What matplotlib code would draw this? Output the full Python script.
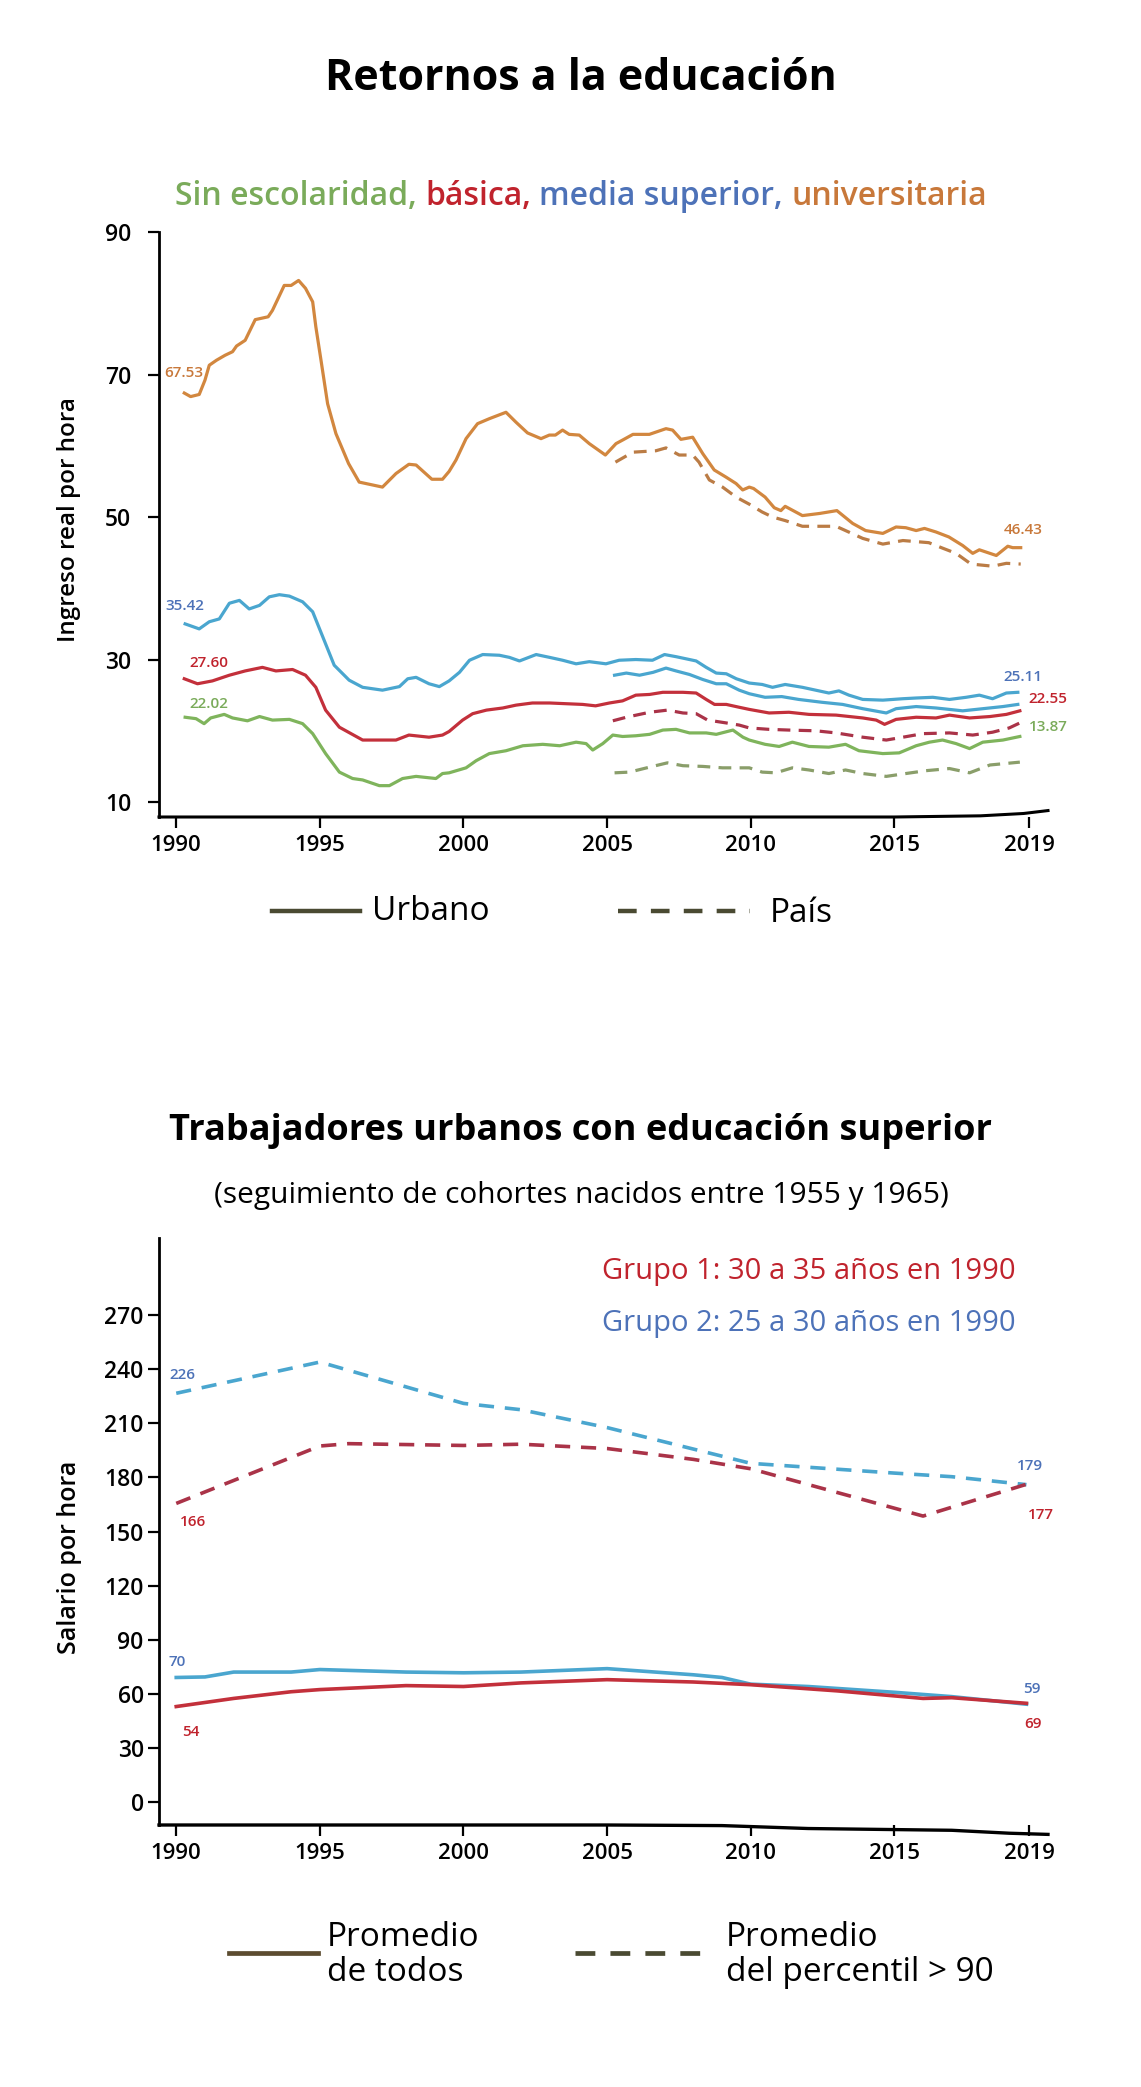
import matplotlib
matplotlib.use("Agg")
import matplotlib.pyplot as plt
from matplotlib.lines import Line2D

plt.rcParams['font.family'] = ['Open Sans', 'DejaVu Sans']

# ---------------- DATA: top chart (Ingreso real por hora) ----------------
uni_urb_x = [1990.28, 1990.5, 1990.8, 1991.0, 1991.15, 1991.4, 1991.7, 1991.96, 1992.1, 1992.4,
             1992.75, 1993.2, 1993.35, 1993.76, 1994.0, 1994.26, 1994.5, 1994.75, 1994.86, 1995.04,
             1995.27, 1995.56, 1996.0, 1996.37, 1997.18, 1997.65, 1998.1, 1998.35, 1998.9, 1999.27,
             1999.5, 1999.74, 2000.09, 2000.49, 2000.9, 2001.48, 2001.83, 2002.23, 2002.7, 2002.99,
             2003.2, 2003.45, 2003.68, 2004.03, 2004.38, 2004.94, 2005.31, 2005.54, 2005.9, 2006.47,
             2007.05, 2007.28, 2007.57, 2007.98, 2008.33, 2008.73, 2009.14, 2009.49, 2009.72, 2009.95,
             2010.1, 2010.5, 2010.82, 2011.05, 2011.2, 2011.8, 2012.4, 2013.0, 2013.55, 2014.0,
             2014.6, 2015.06, 2015.4, 2015.76, 2016.05, 2016.45, 2016.9, 2017.38, 2017.73, 2017.96,
             2018.55, 2018.95, 2019.12, 2019.4]
uni_urb = [67.4, 66.9, 67.2, 69.2, 71.3, 72.0, 72.7, 73.2, 74.0, 74.8,
           77.7, 78.1, 79.0, 82.5, 82.5, 83.2, 82.1, 80.2, 76.7, 72.0,
           65.9, 61.7, 57.5, 54.9, 54.2, 56.1, 57.4, 57.3, 55.3, 55.3,
           56.4, 58.0, 61.0, 63.1, 63.8, 64.7, 63.3, 61.8, 61.0, 61.5,
           61.5, 62.2, 61.6, 61.5, 60.3, 58.7, 60.3, 60.8, 61.6, 61.6,
           62.4, 62.2, 60.9, 61.2, 58.9, 56.6, 55.6, 54.7, 53.8, 54.2,
           54.0, 52.8, 51.3, 50.9, 51.5, 50.2, 50.5, 50.9, 49.1, 48.1,
           47.7, 48.6, 48.5, 48.1, 48.4, 47.9, 47.2, 46.0, 44.9, 45.4,
           44.6, 45.9, 45.7, 45.7]

uni_pais_x = [2005.29, 2005.9, 2006.7, 2007.05, 2007.51, 2007.98, 2008.2, 2008.56, 2009.02, 2009.49,
              2009.95, 2010.4, 2010.76, 2011.2, 2011.8, 2012.97, 2013.3, 2013.9, 2014.6, 2015.3,
              2016.2, 2016.7, 2017.15, 2017.67, 2018.42, 2018.9, 2019.4]
uni_pais = [57.7, 59.1, 59.3, 59.7, 58.7, 58.7, 57.7, 55.2, 54.2, 52.8,
            51.8, 50.7, 50.0, 49.5, 48.7, 48.7, 48.1, 47.0, 46.2, 46.7,
            46.4, 45.6, 44.9, 43.4, 43.1, 43.5, 43.4]

med_urb_x = [1990.31, 1990.8, 1991.15, 1991.5, 1991.85, 1992.2, 1992.54, 1992.9, 1993.24, 1993.59,
             1993.94, 1994.4, 1994.75, 1995.1, 1995.5, 1996.02, 1996.49, 1997.18, 1997.77, 1998.06,
             1998.35, 1998.8, 1999.16, 1999.5, 1999.86, 2000.21, 2000.67, 2001.25, 2001.6, 2001.95,
             2002.53, 2003.0, 2003.45, 2003.92, 2004.38, 2004.96, 2005.42, 2006.0, 2006.58, 2007.0,
             2007.4, 2008.1, 2008.45, 2008.8, 2009.15, 2009.5, 2009.95, 2010.4, 2010.76, 2011.2,
             2011.8, 2012.26, 2012.72, 2013.07, 2013.42, 2013.9, 2014.6, 2015.3, 2015.76, 2016.34,
             2016.92, 2017.5, 2017.96, 2018.42, 2018.9, 2019.3]
med_urb = [35.0, 34.3, 35.3, 35.7, 37.9, 38.3, 37.1, 37.6, 38.8, 39.1,
           38.9, 38.1, 36.7, 33.2, 29.2, 27.1, 26.1, 25.7, 26.2, 27.3,
           27.5, 26.6, 26.2, 27.0, 28.2, 29.9, 30.7, 30.6, 30.3, 29.8,
           30.7, 30.3, 29.9, 29.4, 29.7, 29.4, 29.9, 30.0, 29.9, 30.7,
           30.4, 29.8, 28.9, 28.1, 28.0, 27.3, 26.7, 26.5, 26.1, 26.5,
           26.1, 25.7, 25.3, 25.6, 25.0, 24.4, 24.3, 24.5, 24.6, 24.7,
           24.4, 24.7, 25.0, 24.5, 25.3, 25.4]

med_pais_x = [2005.26, 2005.67, 2006.13, 2006.6, 2007.05, 2007.4, 2007.87, 2008.33, 2008.8, 2009.15,
              2009.6, 2009.95, 2010.5, 2011.08, 2011.67, 2012.48, 2013.2, 2013.9, 2014.72, 2015.06,
              2015.76, 2016.45, 2017.38, 2018.08, 2018.78, 2019.3]
med_pais = [27.8, 28.1, 27.8, 28.2, 28.8, 28.4, 27.9, 27.2, 26.6, 26.6,
            25.7, 25.2, 24.7, 24.8, 24.4, 24.0, 23.7, 23.1, 22.5, 23.1,
            23.4, 23.2, 22.8, 23.1, 23.4, 23.7]

bas_urb_x = [1990.28, 1990.74, 1991.26, 1991.85, 1992.4, 1993.0, 1993.47, 1994.05, 1994.5, 1994.86,
             1995.2, 1995.68, 1996.49, 1997.65, 1998.1, 1998.8, 1999.27, 1999.5, 1999.97, 2000.32,
             2000.8, 2001.37, 2001.83, 2002.4, 2003.0, 2003.57, 2004.15, 2004.6, 2005.08, 2005.54,
             2006.0, 2006.48, 2006.94, 2007.64, 2008.1, 2008.45, 2008.74, 2009.15, 2009.6, 2009.95,
             2010.64, 2011.33, 2012.03, 2012.97, 2013.9, 2014.37, 2014.66, 2015.06, 2015.76, 2016.45,
             2016.92, 2017.62, 2018.33, 2018.9, 2019.37]
bas_urb = [27.3, 26.6, 27.0, 27.8, 28.4, 28.9, 28.4, 28.6, 27.8, 26.1,
           22.9, 20.5, 18.7, 18.7, 19.4, 19.1, 19.4, 19.9, 21.5, 22.4,
           22.9, 23.2, 23.6, 23.9, 23.9, 23.8, 23.7, 23.5, 23.9, 24.2,
           25.0, 25.1, 25.4, 25.4, 25.3, 24.4, 23.7, 23.7, 23.3, 23.0,
           22.5, 22.6, 22.3, 22.2, 21.8, 21.5, 20.9, 21.6, 21.9, 21.8,
           22.2, 21.8, 22.0, 22.3, 22.8]

bas_pais_x = [2005.2, 2005.67, 2006.48, 2007.1, 2007.64, 2008.1, 2008.5, 2009.15, 2009.6, 2009.95,
              2010.64, 2011.33, 2012.26, 2012.97, 2013.9, 2014.72, 2015.3, 2016.0, 2016.92, 2017.73,
              2018.42, 2019.0, 2019.37]
bas_pais = [21.4, 21.9, 22.6, 22.9, 22.5, 22.4, 21.5, 21.1, 20.8, 20.4,
            20.2, 20.1, 20.0, 19.7, 19.1, 18.7, 19.1, 19.6, 19.7, 19.4,
            19.8, 20.4, 21.1]

sin_urb_x = [1990.31, 1990.69, 1990.97, 1991.2, 1991.67, 1991.96, 1992.48, 1992.9, 1993.35, 1993.94,
             1994.4, 1994.75, 1995.2, 1995.68, 1996.14, 1996.49, 1997.07, 1997.42, 1997.88, 1998.35,
             1999.04, 1999.27, 1999.5, 2000.09, 2000.44, 2000.9, 2001.48, 2002.07, 2002.76, 2003.35,
             2003.92, 2004.27, 2004.5, 2004.85, 2005.2, 2005.54, 2006.0, 2006.48, 2006.94, 2007.4,
             2007.87, 2008.45, 2008.8, 2009.38, 2009.73, 2009.95, 2010.5, 2010.99, 2011.45, 2012.03,
             2012.72, 2013.3, 2013.77, 2014.6, 2015.17, 2015.76, 2016.22, 2016.68, 2017.15, 2017.62,
             2018.08, 2018.78, 2019.37]
sin_urb = [21.9, 21.7, 21.0, 21.8, 22.3, 21.8, 21.4, 22.0, 21.5, 21.6,
           21.0, 19.6, 16.8, 14.2, 13.3, 13.1, 12.3, 12.3, 13.3, 13.6,
           13.3, 14.0, 14.1, 14.8, 15.8, 16.8, 17.2, 17.9, 18.1, 17.9,
           18.4, 18.2, 17.3, 18.2, 19.4, 19.2, 19.3, 19.5, 20.1, 20.2,
           19.7, 19.7, 19.5, 20.1, 19.1, 18.7, 18.1, 17.8, 18.4, 17.8,
           17.7, 18.1, 17.2, 16.8, 16.9, 17.9, 18.4, 18.7, 18.2, 17.5,
           18.4, 18.7, 19.2]

sin_pais_x = [2005.26, 2005.78, 2006.48, 2007.1, 2007.64, 2008.33, 2009.02, 2009.95, 2010.4, 2010.87,
              2011.45, 2012.03, 2012.72, 2013.3, 2013.9, 2014.72, 2015.4, 2016.1, 2016.92, 2017.62,
              2018.33, 2019.37]
sin_pais = [14.1, 14.2, 14.9, 15.5, 15.1, 15.0, 14.8, 14.8, 14.2, 14.1,
            14.8, 14.5, 14.0, 14.5, 14.0, 13.6, 14.0, 14.4, 14.7, 14.1,
            15.2, 15.6]

top_start_labels = ["67.53", "35.42", "27.60", "22.02"]
top_end_labels = ["46.43", "25.11", "22.55", "13.87"]

top_yticks = [10, 30, 50, 70, 90]
xtick_pos = [1990, 1995, 2000, 2005, 2010, 2015, 2019.7]
xtick_labels = ["1990", "1995", "2000", "2005", "2010", "2015", "2019"]

# ---------------- DATA: bottom chart (Salario por hora) ----------------
g1_avg_x = [1990, 1992, 1994, 1995, 1998, 2000, 2002, 2005, 2008, 2010, 2013, 2016, 2017, 2019.6]
g1_avg = [53.1, 57.6, 61.3, 62.5, 64.7, 64.2, 66.2, 68.0, 66.7, 65.2, 61.8, 57.6, 58.0, 54.9]
g2_avg_x = [1990, 1991, 1992, 1994, 1995, 1998, 2000, 2002, 2005, 2008, 2009, 2010, 2012, 2015, 2017, 2019.6]
g2_avg = [69.2, 69.5, 72.2, 72.2, 73.6, 72.2, 71.8, 72.2, 74.1, 70.7, 69.2, 65.5, 64.2, 61.0, 58.6, 54.4]
g1_p90_x = [1990, 1995, 1996, 2000, 2002, 2005, 2008, 2010, 2016, 2019.6]
g1_p90 = [165.6, 197.4, 198.7, 197.7, 198.4, 196.0, 190.0, 184.8, 158.6, 176.2]
g2_p90_x = [1990, 1995, 2000, 2002, 2005, 2010, 2015, 2017, 2019.6]
g2_p90 = [226.6, 243.9, 221.0, 217.5, 207.6, 187.8, 182.4, 180.4, 176.0]

bot_labels = ["226", "166", "179", "177", "70", "54", "59", "69"]
bot_yticks = [0, 30, 60, 90, 120, 150, 180, 210, 240, 270]

# ---------------- STYLE ----------------
C_ORANGE = "#d2873f"
C_ORANGE_D = "#bb7c45"
C_BLUE = "#4aa6cf"
C_RED = "#c3303b"
C_RED_D = "#aa3348"
C_GREEN = "#7fb45c"
C_GREEN_D = "#8a9e6a"
T_ORANGE = "#c8783a"
T_BLUE = "#4d72b8"
T_RED = "#c0232d"
T_GREEN = "#7aab5a"
C_LEG = "#4a4a32"

W, H = 1141, 2087
fig = plt.figure(figsize=(W / 100, H / 100), dpi=100)
fig.patch.set_facecolor("white")


def fx(px):
    return px / W


def fy(py):
    return 1 - py / H


def style_axes(ax, ypad):
    ax.spines['top'].set_visible(False)
    ax.spines['right'].set_visible(False)
    ax.spines['bottom'].set_visible(False)
    ax.spines['left'].set_linewidth(2.0)
    ax.tick_params(axis='both', length=8, width=1.6, color='black')
    ax.tick_params(axis='x', labelsize=16, pad=5)
    ax.tick_params(axis='y', labelsize=16.5, pad=ypad)
    for lab in ax.get_xticklabels() + ax.get_yticklabels():
        lab.set_fontweight('semibold')


LW = 2.3
DASH = (4, 2.6)

# ---------------- TOP CHART ----------------
ax1 = fig.add_axes([fx(159), fy(817), fx(1048) - fx(159), fy(232) - fy(817)])
ax1.set_xlim(1989.4, 2020.35)
ax1.set_ylim(7.9, 90)

ax1.plot(uni_urb_x, uni_urb, color=C_ORANGE, lw=LW, solid_joinstyle='round')
ax1.plot(uni_pais_x, uni_pais, color=C_ORANGE_D, lw=LW, dashes=DASH)
ax1.plot(med_urb_x, med_urb, color=C_BLUE, lw=LW, solid_joinstyle='round')
ax1.plot(med_pais_x, med_pais, color=C_BLUE, lw=LW, solid_joinstyle='round')
ax1.plot(bas_urb_x, bas_urb, color=C_RED, lw=LW, solid_joinstyle='round')
ax1.plot(bas_pais_x, bas_pais, color=C_RED_D, lw=LW, dashes=DASH)
ax1.plot(sin_urb_x, sin_urb, color=C_GREEN, lw=LW, solid_joinstyle='round')
ax1.plot(sin_pais_x, sin_pais, color=C_GREEN_D, lw=LW, dashes=DASH)

ax1.set_yticks(top_yticks)
ax1.set_xticks(xtick_pos)
ax1.set_xticklabels(xtick_labels)
style_axes(ax1, ypad=12)

# baseline (slightly rising at the right end)
base_x1 = [1989.4, 2005, 2015, 2018, 2019.5, 2020.35]
base_y1 = [0.0, 0.0, 0.0, 0.002, 0.006, 0.011]
ax1.plot(base_x1, base_y1, color='black', lw=2.2, transform=ax1.get_xaxis_transform(), clip_on=False)

lab_kw = dict(fontsize=11, fontweight='semibold', ha='center', va='center')
start_pos = [(1990.25, 70.2), (1990.3, 37.5), (1991.15, 29.5), (1991.15, 23.8)]
start_cols = [T_ORANGE, T_BLUE, T_RED, T_GREEN]
for s, (x, y), c in zip(top_start_labels, start_pos, start_cols):
    ax1.text(x, y, s, color=c, **lab_kw)
end_pos = [(2019.48, 48.2), (2019.48, 27.5), (2020.35, 24.5), (2020.35, 20.6)]
for s, (x, y), c in zip(top_end_labels, end_pos, start_cols):
    ax1.text(x, y, s, color=c, **lab_kw)

fig.text(fx(69), fy(520), "Ingreso real por hora", rotation=90, ha='center', va='center',
         fontsize=17.5, fontweight='semibold')

# title
fig.text(fx(581), fy(79), "Retornos a la educación", ha='center', va='center',
         fontsize=31, fontweight='bold')

# coloured subtitle
renderer = fig.canvas.get_renderer()
SUB_FS = 23
pieces = [("Sin escolaridad,", T_GREEN), ("básica,", T_RED), ("media superior,", T_BLUE),
          ("universitaria", T_ORANGE)]
texts = []
for s, c in pieces:
    texts.append(fig.text(0, fy(197), s, color=c, fontsize=SUB_FS, fontweight='semibold',
                          ha='left', va='center'))
space = fig.text(0, 0, "a a", fontsize=SUB_FS, fontweight='semibold')
w_aa = space.get_window_extent(renderer).width
space.set_text("aa")
w_space = w_aa - space.get_window_extent(renderer).width
space.remove()
widths = [t.get_window_extent(renderer).width for t in texts]
total = sum(widths) + w_space * (len(texts) - 1)
xcur = 581 - total / 2
for t, w in zip(texts, widths):
    t.set_x(xcur / W)
    xcur += w + w_space

# top legend
fig.add_artist(Line2D([fx(272), fx(360)], [fy(911), fy(911)], color=C_LEG, lw=3.2))
fig.text(fx(372), fy(911), "Urbano", ha='left', va='center', fontsize=24, fontweight='medium')
fig.add_artist(Line2D([fx(618), fx(750)], [fy(911), fy(911)], color=C_LEG, lw=3.2,
                      dashes=(4.2, 3.2)))
fig.text(fx(770), fy(913), "País", ha='left', va='center', fontsize=24, fontweight='medium')

# ---------------- BOTTOM CHART ----------------
ax2 = fig.add_axes([fx(159), fy(1825), fx(1048) - fx(159), fy(1238) - fy(1825)])
ax2.set_xlim(1989.4, 2020.35)
ax2.set_ylim(-12.5, 312.6)

LW2 = 2.6
DASH2 = (4.2, 3.0)
ax2.plot(g2_p90_x, g2_p90, color=C_BLUE, lw=LW2, dashes=DASH2)
ax2.plot(g1_p90_x, g1_p90, color=C_RED_D, lw=LW2, dashes=DASH2)
ax2.plot(g2_avg_x, g2_avg, color=C_BLUE, lw=LW2)
ax2.plot(g1_avg_x, g1_avg, color=C_RED, lw=LW2)

ax2.set_yticks(bot_yticks)
ax2.set_xticks(xtick_pos)
ax2.set_xticklabels(xtick_labels)
style_axes(ax2, ypad=3)

base_x2 = [1989.4, 2005, 2009, 2012, 2017, 2019, 2020.35]
base_y2 = [0.0, 0.0, -0.001, -0.006, -0.009, -0.014, -0.016]
ax2.plot(base_x2, base_y2, color='black', lw=2.4, transform=ax2.get_xaxis_transform(), clip_on=False)

bot_pos = [(1990.2, 236.6), (1990.6, 155.3), (2019.72, 186.6), (2020.1, 159.4),
           (1990.05, 77.9), (1990.5, 39.1), (2019.78, 63.0), (2019.82, 43.2)]
bot_cols = [T_BLUE, T_RED, T_BLUE, T_RED, T_BLUE, T_RED, T_BLUE, T_RED]
for s, (x, y), c in zip(bot_labels, bot_pos, bot_cols):
    ax2.text(x, y, s, color=c, **lab_kw)

fig.text(fx(69), fy(1557), "Salario por hora", rotation=90, ha='center', va='center',
         fontsize=18, fontweight='semibold')

fig.text(fx(1016), fy(1271), "Grupo 1: 30 a 35 años en 1990", ha='right', va='center',
         fontsize=21, fontweight='medium', color=T_RED)
fig.text(fx(1016), fy(1324), "Grupo 2: 25 a 30 años en 1990", ha='right', va='center',
         fontsize=21, fontweight='medium', color=T_BLUE)

fig.text(fx(581), fy(1131), "Trabajadores urbanos con educación superior", ha='center',
         va='center', fontsize=26, fontweight='bold')
fig.text(fx(581), fy(1196), "(seguimiento de cohortes nacidos entre 1955 y 1965)", ha='center',
         va='center', fontsize=21.5, fontweight='medium')

# bottom legend
fig.add_artist(Line2D([fx(229), fx(318)], [fy(1953), fy(1953)], color="#5c4c30", lw=3.4))
fig.text(fx(327), fy(1955), "Promedio\nde todos", ha='left', va='center', fontsize=24,
         fontweight='medium', linespacing=1.05)
fig.add_artist(Line2D([fx(575), fx(705)], [fy(1953), fy(1953)], color=C_LEG, lw=3.4,
                      dashes=(4.2, 3.2)))
fig.text(fx(726), fy(1955), "Promedio\ndel percentil > 90", ha='left', va='center', fontsize=24,
         fontweight='medium', linespacing=1.05)

fig.savefig("out.png", dpi=100, facecolor="white")
